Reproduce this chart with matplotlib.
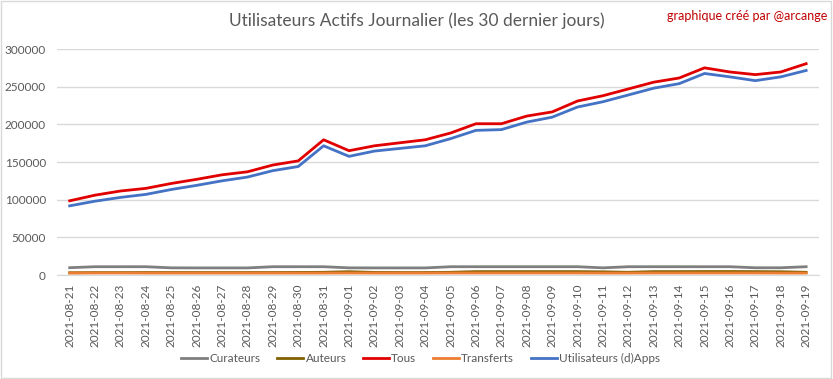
import numpy as np
import matplotlib.pyplot as plt
from matplotlib.patches import Rectangle

plt.rcParams['font.family'] = ['Lato', 'DejaVu Sans']

dates = ['2021-08-21', '2021-08-22', '2021-08-23', '2021-08-24', '2021-08-25',
         '2021-08-26', '2021-08-27', '2021-08-28', '2021-08-29', '2021-08-30',
         '2021-08-31', '2021-09-01', '2021-09-02', '2021-09-03', '2021-09-04',
         '2021-09-05', '2021-09-06', '2021-09-07', '2021-09-08', '2021-09-09',
         '2021-09-10', '2021-09-11', '2021-09-12', '2021-09-13', '2021-09-14',
         '2021-09-15', '2021-09-16', '2021-09-17', '2021-09-18', '2021-09-19']

curateurs = [9700, 11000, 11000, 11000, 9500, 9400, 9400, 9400, 11000, 11000,
             11000, 9500, 9400, 9400, 9400, 11000, 11000, 11000, 11000, 11000,
             11000, 9500, 11000, 11000, 11000, 11000, 11000, 9600, 9600, 11000]
auteurs = [3000, 3200, 3200, 3300, 3300, 3300, 3300, 3300, 3300, 3400,
           3600, 4400, 3400, 3300, 3300, 3600, 4500, 4500, 4500, 4500,
           4500, 4200, 3600, 4500, 4500, 4600, 4600, 4500, 4300, 3600]
tous = [98500, 106000, 111500, 115000, 121500, 127000, 133000, 137000, 146000, 151500,
        179500, 165000, 171500, 175500, 179500, 188500, 200800, 200800, 211000, 216500,
        231000, 238000, 247000, 256000, 261500, 275000, 269500, 266000, 269500, 280500]
transferts = [2600, 2700, 2700, 2600, 2600, 2600, 2600, 2600, 2600, 2600,
              2600, 2700, 2600, 2600, 2600, 2700, 2700, 2700, 2700, 2700,
              2700, 2600, 2600, 2700, 2700, 2700, 2700, 2700, 2600, 2600]
dapps = [91800, 98000, 103000, 107000, 113500, 119000, 125000, 130000, 138500, 144000,
         171500, 157500, 164500, 168000, 171500, 181000, 192000, 193000, 203000, 209500,
         223000, 230000, 239000, 248000, 254000, 267500, 263000, 258000, 263000, 271500]

x = np.arange(len(dates))

fig = plt.figure(figsize=(8.33, 3.79), dpi=100)
ax = fig.add_axes([0.0684, 0.2744, 0.9146, 0.5963])

ax.plot(x, curateurs, color='#7f7f7f', lw=2, label='Curateurs')
ax.plot(x, auteurs, color='#806000', lw=2, label='Auteurs')
ax.plot(x, tous, color='#e00000', lw=2, label='Tous')
ax.plot(x, transferts, color='#ed7d31', lw=2, label='Transferts')
ax.plot(x, dapps, color='#4472c4', lw=2, label='Utilisateurs (d)Apps')

ax.set_xlim(-0.5, len(dates) - 0.5)
ax.set_ylim(0, 300000)
ax.set_yticks(np.arange(0, 300001, 50000))
ax.set_yticklabels([str(v) for v in range(0, 300001, 50000)])
ax.set_xticks(x)
ax.set_xticklabels(dates, rotation=90)
ax.tick_params(axis='both', length=0, labelsize=8.5, labelcolor='#595959')
ax.tick_params(axis='x', pad=6)
ax.tick_params(axis='y', pad=8)
ax.grid(axis='y', color='#d9d9d9', lw=1)
ax.set_axisbelow(True)
for s in ['top', 'right', 'left']:
    ax.spines[s].set_visible(False)
ax.spines['bottom'].set_color('#d9d9d9')

fig.text(0.5, 0.945, 'Utilisateurs Actifs Journalier (les 30 dernier jours)',
         ha='center', va='center', fontsize=12.5, color='#595959')
fig.text(0.993, 0.958, 'graphique créé par @arcange', ha='right', va='center',
         fontsize=9, color='#c00000')

fig.legend(loc='center', bbox_to_anchor=(0.505, 0.055), ncol=5, frameon=False,
           fontsize=8.5, labelcolor='#595959', handlelength=2.2, columnspacing=1.4,
           handletextpad=0.2)

fig.patches.append(Rectangle((0.001, 0.002), 0.997, 0.995, transform=fig.transFigure,
                             fill=False, edgecolor='#d9d9d9', lw=1))

fig.savefig('out.png', dpi=100)
